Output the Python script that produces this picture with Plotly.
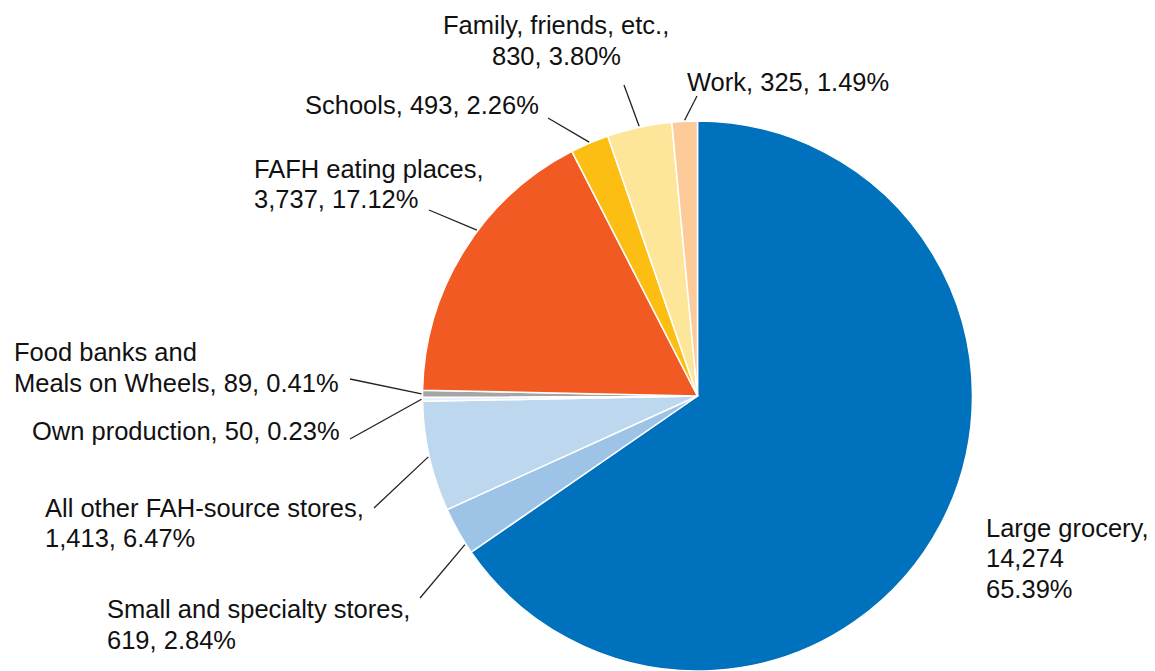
import math
import plotly.graph_objects as go

# ---------------- data ----------------
labels = ["Large grocery", "Small and specialty stores", "All other FAH-source stores",
          "Own production", "Food banks and Meals on Wheels", "FAFH eating places",
          "Schools", "Family, friends, etc.", "Work"]
values = [14274, 619, 1413, 50, 89, 3737, 493, 830, 325]
colors = ["#0071BC", "#9DC3E6", "#BDD7EE", "#E6F0F9", "#A5A5A5",
          "#F15A22", "#FDBE14", "#FDE69A", "#FDCA9A"]

total = sum(values)
pcts = [v / total * 100 for v in values]
vstr = [f"{v:,}" for v in values]
pstr = [f"{p:.2f}%" for p in pcts]

# text lines of each label
label_lines = [
    ["Large grocery,", vstr[0], pstr[0]],
    ["Small and specialty stores,", f"{vstr[1]}, {pstr[1]}"],
    ["All other FAH-source stores,", f"{vstr[2]}, {pstr[2]}"],
    [f"Own production, {vstr[3]}, {pstr[3]}"],
    ["Food banks and", f"Meals on Wheels, {vstr[4]}, {pstr[4]}"],
    ["FAFH eating places,", f"{vstr[5]}, {pstr[5]}"],
    [f"Schools, {vstr[6]}, {pstr[6]}"],
    ["Family, friends, etc.,", f"{vstr[7]}, {pstr[7]}"],
    [f"Work, {vstr[8]}, {pstr[8]}"],
]

# ---------------- layout (pixels) ----------------
W, H = 1155, 671
pie_left, pie_right, pie_top = 420, 975, 121
# label placement: (x, first-line centre y, xanchor, leader-line outer end or None,
#                   position of leader-line tip within the slice, 0..1)
placement = [
    (984, 527.5, "left", None, 0.5),
    (105, 609, "left", (420, 598), 0.2),
    (43, 507.5, "left", (374, 508), 0.5),
    (30, 431, "left", (350, 439), 0.5),
    (12, 352, "left", (350, 379), 0.5),
    (252, 168.5, "left", (429, 210), 0.58),
    (303, 105, "left", (548, 118), 0.5),
    (556, 25.5, "center", (624, 85), 0.5),
    (685, 82, "left", (697, 96), 0.5),
]
line_gap = 30.5
font_size = 25.5

dom_x = [pie_left / W, pie_right / W]
dom_y = [0, (H - pie_top) / H]
R = min(pie_right - pie_left, H - pie_top) / 2
cx = (pie_left + pie_right) / 2
cy = pie_top + R

fig = go.Figure(go.Pie(
    labels=labels, values=values, sort=False, direction="clockwise", rotation=0,
    marker=dict(colors=colors, line=dict(color="white", width=1.5)),
    textinfo="none", hoverinfo="label+value+percent", showlegend=False,
    domain=dict(x=dom_x, y=dom_y),
))

def px2paper(x, y):
    return x / W, 1 - y / H

annotations = []
shapes = []
cum = 0
for i, v in enumerate(values):
    tx, ty, xa, outer, frac = placement[i]
    ang = (cum + v * frac) / total * 2 * math.pi
    cum += v
    for j, line in enumerate(label_lines[i]):
        ax_, ay_ = px2paper(tx, ty + j * line_gap)
        annotations.append(dict(
            x=ax_, y=ay_, xref="paper", yref="paper", text=line, showarrow=False,
            xanchor=xa, yanchor="middle",
            font=dict(family="Liberation Sans, Arial, sans-serif", size=font_size, color="#111111"),
        ))
    if outer is not None:
        ix = cx + (R + 1) * math.sin(ang)
        iy = cy - (R + 1) * math.cos(ang)
        x0, y0 = px2paper(*outer)
        x1, y1 = px2paper(ix, iy)
        shapes.append(dict(type="line", xref="paper", yref="paper",
                           x0=x0, y0=y0, x1=x1, y1=y1,
                           line=dict(color="#222222", width=1.3)))

fig.update_layout(
    width=W, height=H, margin=dict(l=0, r=0, t=0, b=0),
    paper_bgcolor="white", plot_bgcolor="white",
    annotations=annotations, shapes=shapes,
)

fig.write_html("out.html")
